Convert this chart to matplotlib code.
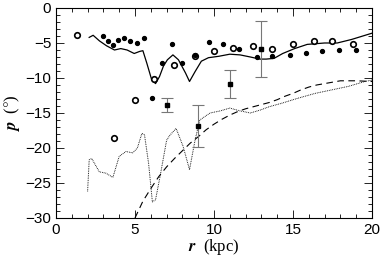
import matplotlib
matplotlib.use("Agg")
import matplotlib.pyplot as plt
from matplotlib.ticker import MultipleLocator

plt.rcParams['font.family'] = ['Liberation Sans', 'DejaVu Sans']
plt.rcParams['mathtext.fontset'] = 'stix'

# open circles
open_r = [1.3, 3.7, 5.0, 6.2, 7.5, 8.8, 10.0, 11.2, 12.5, 13.7, 15.0, 16.3, 17.5, 18.8]
open_p = [-3.9, -18.6, -13.1, -10.2, -8.1, -6.9, -6.1, -5.7, -5.5, -5.9, -5.1, -4.7, -4.7, -5.2]

# filled dots
dot_r = [3.0, 3.3, 3.6, 3.9, 4.3, 4.7, 5.1, 5.55, 6.1, 6.7, 7.35, 8.0, 8.8, 9.7, 10.6,
         11.6, 12.7, 13.7, 14.8, 15.8, 16.85, 17.9, 19.0]
dot_p = [-4.0, -4.7, -5.3, -4.6, -4.3, -4.7, -5.0, -4.3, -12.9, -7.9, -5.1, -7.9, -6.7, -4.9, -5.1,
         -5.9, -7.0, -6.9, -6.7, -6.4, -6.2, -6.0, -6.0]

# filled squares with error bars
sq_r = [7.0, 9.0, 11.0, 13.0]
sq_p = [-13.9, -16.9, -10.8, -5.8]
sq_err = [1.0, 3.0, 2.0, 4.0]

# solid model curve
solid_r = [2.1, 2.35, 2.75, 3.2, 3.7, 4.1, 4.5, 4.95, 5.3, 5.5, 5.75, 6.05, 6.3, 6.55, 6.8,
           7.05, 7.4, 7.75, 8.2, 8.45, 8.8, 9.2, 9.65, 10.3, 11.0, 11.65, 12.3, 12.9,
           13.3, 13.8, 14.35, 15.1, 15.9, 17.0, 17.8, 18.7, 20.0]
solid_p = [-4.2, -3.9, -4.7, -5.4, -6.0, -5.8, -6.0, -6.5, -6.2, -6.1, -7.9, -10.2, -10.8, -9.8, -8.3,
           -7.4, -6.7, -7.4, -9.3, -10.5, -9.1, -7.6, -7.1, -6.9, -6.6, -6.7, -7.0, -7.3,
           -7.3, -7.2, -6.5, -5.8, -5.2, -5.0, -5.0, -4.5, -3.6]

# dotted model curve
dotted_r = [2.0, 2.1, 2.26, 2.74, 3.16, 3.6, 4.0, 4.43, 4.85, 5.15, 5.44, 5.6, 5.86, 6.1, 6.3,
            6.6, 7.0, 7.2, 7.6, 8.05, 8.45, 8.8, 9.1, 9.75, 10.4, 11.0, 11.65, 12.3, 12.9,
            13.5, 14.3, 15.3, 16.4, 17.45, 18.5, 19.55, 20.0]
dotted_p = [-26.2, -21.7, -21.5, -23.4, -23.6, -24.2, -21.2, -20.5, -20.7, -20.0, -17.9, -18.1, -22.2, -27.7, -27.4,
            -23.9, -18.9, -18.2, -17.2, -19.8, -23.1, -18.9, -16.0, -15.0, -14.7, -14.3, -14.7, -15.0, -14.6,
            -14.1, -13.6, -12.9, -12.2, -11.7, -11.2, -10.5, -10.3]

# dashed model curve
dashed_r = [5.0, 5.5, 6.0, 6.5, 7.0, 7.5, 8.0, 8.5, 9.0, 9.5, 10.0, 10.5, 11.0, 11.5, 12.0,
            12.5, 13.0, 13.5, 14.0, 14.5, 15.0, 15.5, 16.0, 16.5, 17.0, 17.5, 18.0, 19.0, 20.0]
dashed_p = [-30.0, -27.6, -25.8, -24.1, -22.7, -21.5, -20.4, -19.3, -18.4, -17.4, -16.6, -15.9, -15.3, -14.8, -14.4,
            -14.1, -13.8, -13.5, -13.1, -12.6, -12.2, -11.7, -11.3, -11.0, -10.8, -10.6, -10.4, -10.4, -10.5]

fig = plt.figure(figsize=(3.82, 2.57), dpi=100)
ax = fig.add_axes([0.1466, 0.1518, 0.8272, 0.8171])

ax.plot(solid_r, solid_p, '-', color='black', lw=0.9)
ax.plot(dotted_r, dotted_p, color='black', lw=0.7, linestyle=(0, (0.8, 1.0)))
ax.plot(dashed_r, dashed_p, color='black', lw=0.8, linestyle=(0, (6, 4)))

ax.plot(open_r, open_p, 'o', mfc='white', mec='black', mew=1.2, ms=4)
ax.plot(dot_r, dot_p, 'o', color='black', ms=2.8)
ax.errorbar(sq_r, sq_p, yerr=sq_err, fmt='s', color='black', ms=3.5,
            ecolor='#777777', elinewidth=0.8, capsize=4, capthick=0.8)

ax.set_xlim(0, 20)
ax.set_ylim(-30, 0)
ax.xaxis.set_major_locator(MultipleLocator(5))
ax.xaxis.set_minor_locator(MultipleLocator(1))
ax.yaxis.set_major_locator(MultipleLocator(5))
ax.yaxis.set_minor_locator(MultipleLocator(1))
ax.tick_params(which='both', direction='in', top=True, right=True, labelsize=11, width=0.6)
ax.tick_params(which='major', length=6)
ax.tick_params(which='minor', length=3)
for s in ax.spines.values():
    s.set_linewidth(0.8)

ax.set_xlabel(r'$\boldsymbol{r}$  (kpc)', fontsize=12, family='Liberation Serif', labelpad=0)
ax.set_ylabel(r'$\boldsymbol{p}$  ($\degree$)', fontsize=12, family='Liberation Serif', labelpad=2)

fig.savefig('out.png', dpi=100)
